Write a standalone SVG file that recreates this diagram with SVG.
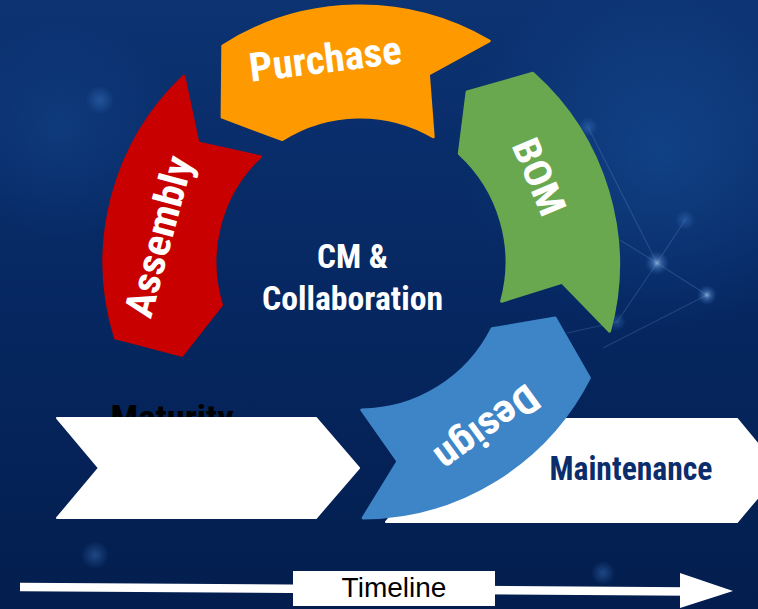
<svg xmlns="http://www.w3.org/2000/svg" width="758" height="609" viewBox="0 0 758 609">
<defs>
<linearGradient id="bg" x1="0" y1="0" x2="0" y2="1">
<stop offset="0" stop-color="#0c3372"/>
<stop offset="0.5" stop-color="#062761"/>
<stop offset="1" stop-color="#031e4e"/>
</linearGradient>
<radialGradient id="glowTR" cx="0.5" cy="0.5" r="0.5">
<stop offset="0" stop-color="#1d5fb0" stop-opacity="0.4"/>
<stop offset="1" stop-color="#1d5fb0" stop-opacity="0"/>
</radialGradient>
<radialGradient id="dot" cx="0.5" cy="0.5" r="0.5">
<stop offset="0" stop-color="#9fc3ee" stop-opacity="0.8"/>
<stop offset="0.4" stop-color="#5e8fd0" stop-opacity="0.45"/>
<stop offset="1" stop-color="#3b6fb8" stop-opacity="0"/>
</radialGradient>
<radialGradient id="dotFaint" cx="0.5" cy="0.5" r="0.5">
<stop offset="0" stop-color="#3f78c4" stop-opacity="0.45"/>
<stop offset="1" stop-color="#3f78c4" stop-opacity="0"/>
</radialGradient>
</defs>
<style>
.seg { stroke-width: 3; stroke-linejoin: round; }
.lbl { font-family: "Roboto Condensed", Roboto, "Liberation Sans", sans-serif; font-weight: 700; text-anchor: middle; }
.white { fill: #ffffff; }
.chev { fill: #ffffff; stroke: #ffffff; stroke-width: 2; stroke-linejoin: round; }
.net { stroke: #7ea6dc; stroke-opacity: 0.22; stroke-width: 1.2; fill: none; }
</style>

<g id="background">
<rect x="0" y="0" width="758" height="609" fill="url(#bg)"/>
<ellipse cx="660" cy="150" rx="200" ry="180" fill="url(#glowTR)"/>
<ellipse cx="60" cy="130" rx="120" ry="110" fill="url(#glowTR)" opacity="0.6"/>
<path class="net" d="M588,127 L657,263 L707,295 M657,263 L685,220 M657,263 L617,322 L567,333 M707,295 L603,348 M620,240 L657,263"/>
<circle cx="657" cy="263" r="12" fill="url(#dot)"/>
<circle cx="707" cy="295" r="10" fill="url(#dot)"/>
<circle cx="685" cy="220" r="10" fill="url(#dotFaint)"/>
<circle cx="588" cy="127" r="10" fill="url(#dotFaint)"/>
<circle cx="617" cy="322" r="9" fill="url(#dotFaint)"/>
<circle cx="100" cy="100" r="14" fill="url(#dotFaint)"/>
<circle cx="95" cy="555" r="14" fill="url(#dotFaint)"/>
<circle cx="603" cy="573" r="12" fill="url(#dotFaint)"/>
</g>

<g id="maturity">
<text class="lbl" x="172" y="429" font-size="34" textLength="123" lengthAdjust="spacingAndGlyphs" fill="#000000">Maturity</text>
<polygon class="chev" points="57,418 316,418 359,468 316,518 57,518 99,468"/>
</g>

<g id="maintenance">
<polygon class="chev" points="386,419 737,419 780,471 737,522 386,522 429,471"/>
<text class="lbl" x="631" y="480" font-size="33" textLength="163" lengthAdjust="spacingAndGlyphs" fill="#0b2d6c">Maintenance</text>
</g>

<g id="assembly">
<path class="seg" fill="#c80000" stroke="#c80000" d="M115.4,337.7 A256,256 0 0 1 183.8,76.3 L198,143 L260.2,156.8 A145,145 0 0 0 221.5,304.9 L182,355.4 Z"/>
<text class="lbl white" transform="translate(172,240) rotate(-75)" font-size="40" textLength="165" lengthAdjust="spacingAndGlyphs">Assembly</text>
</g>

<g id="purchase">
<path class="seg" fill="#ff9900" stroke="#ff9900" d="M222.8,45.9 A256,256 0 0 1 489.2,41 L428.4,74.1 L433.2,136.8 A145,145 0 0 0 282.3,139.6 L222.1,117.2 Z"/>
<text class="lbl white" transform="translate(327,72.5) rotate(-7)" font-size="40" textLength="153" lengthAdjust="spacingAndGlyphs">Purchase</text>
</g>

<g id="bom">
<path class="seg" fill="#6aa84f" stroke="#6aa84f" d="M532.9,73.3 A256,256 0 0 1 609.6,331.2 L562,282.2 L501.6,301.3 A147,147 0 0 0 459.3,153.6 L467.1,91.9 Z"/>
<text class="lbl white" transform="translate(527,182) rotate(67)" font-size="38" textLength="80" lengthAdjust="spacingAndGlyphs">BOM</text>
</g>

<g id="design">
<path class="seg" fill="#3d85c6" stroke="#3d85c6" d="M589.4,377.9 A256,256 0 0 1 363.1,518 L398,461.4 L361.8,410 A148,148 0 0 0 492.1,328.7 L555.1,318 Z"/>
<text class="lbl white" transform="translate(479,417) rotate(144)" font-size="40" textLength="118" lengthAdjust="spacingAndGlyphs">Design</text>
</g>

<g id="center">
<text class="lbl white" x="352.5" y="268" font-size="34" textLength="71" lengthAdjust="spacingAndGlyphs">CM &amp;</text>
<text class="lbl white" x="352.5" y="310" font-size="34" textLength="181" lengthAdjust="spacingAndGlyphs">Collaboration</text>
</g>

<g id="connectors">
<path d="M20,587 L688,591.5" stroke="#ffffff" stroke-width="8.5" fill="none"/>
<polygon points="680,573 733,591 680,608" fill="#ffffff"/>
</g>

<g id="timeline">
<rect x="293" y="571" width="202" height="35" fill="#ffffff"/>
<text x="394" y="597" font-family="'Liberation Sans', Arial, sans-serif" font-size="28" text-anchor="middle" fill="#000000">Timeline</text>
</g>
</svg>
